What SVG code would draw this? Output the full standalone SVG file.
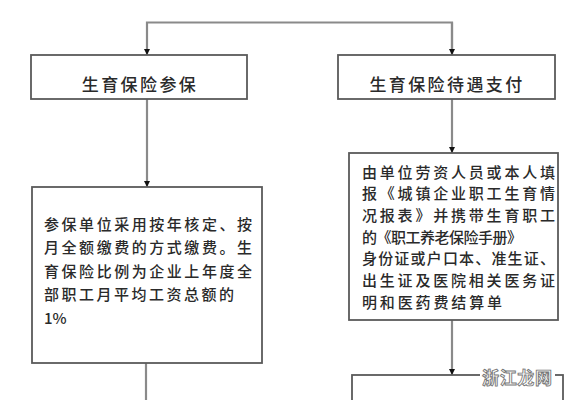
<svg xmlns="http://www.w3.org/2000/svg" width="581" height="400" viewBox="0 0 581 400">
<style>
.box{fill:#fff;stroke:#5a5a5a;stroke-width:1.8}
.conn{fill:none;stroke:#8a8a8a;stroke-width:2.2}
.t{font-family:"Noto Sans CJK SC","Noto Sans",sans-serif;fill:#2a2a2a;font-weight:500}
.title{font-size:17px;letter-spacing:2.4px;text-anchor:middle}
.body{font-size:15px}
.wm{font-family:"Noto Sans CJK SC",sans-serif;font-size:17px;font-weight:bold;fill:#fff;stroke:#777;stroke-width:0.9}
</style>
<defs>
<marker id="arr" viewBox="0 0 8 8" refX="8" refY="4" markerWidth="6" markerHeight="6" markerUnits="userSpaceOnUse" orient="auto">
<path d="M0,0 L8,4 L0,8 Z" fill="#111"/>
</marker>
</defs>
<rect width="581" height="400" fill="#fff"/>
<g id="connectors">
<path class="conn" d="M452,55 V22.5 H147 V55" marker-end="url(#arr)"/>
<path class="conn" d="M452,22.5 V55" marker-end="url(#arr)"/>
<path class="conn" d="M147,99 V187" marker-end="url(#arr)"/>
<path class="conn" d="M146,363 V400"/>
<path class="conn" d="M452,99 V153" marker-end="url(#arr)"/>
<path class="conn" d="M452,320 V375" marker-end="url(#arr)"/>
</g>
<g id="node-join">
<rect class="box" x="31" y="55" width="216" height="44"/>
<text class="t title" x="140" y="91">生育保险参保</text>
</g>
<g id="node-pay">
<rect class="box" x="338" y="55" width="217" height="44"/>
<text class="t title" x="447" y="91">生育保险待遇支付</text>
</g>
<g id="node-join-detail">
<rect class="box" x="32" y="187" width="230" height="176"/>
<text class="t body" x="44" y="229.5" textLength="208" lengthAdjust="spacing">参保单位采用按年核定、按</text>
<text class="t body" x="44" y="253" textLength="208" lengthAdjust="spacing">月全额缴费的方式缴费。生</text>
<text class="t body" x="44" y="276.5" textLength="208" lengthAdjust="spacing">育保险比例为企业上年度全</text>
<text class="t body" x="44" y="300" textLength="190" lengthAdjust="spacing">部职工月平均工资总额的</text>
<text class="t body" x="44" y="323.5">1%</text>
</g>
<g id="node-pay-detail">
<rect class="box" x="349" y="153" width="209" height="167"/>
<text class="t body" x="362" y="177.5" textLength="193" lengthAdjust="spacing">由单位劳资人员或本人填</text>
<text class="t body" x="362" y="199" textLength="193" lengthAdjust="spacing">报《城镇企业职工生育情</text>
<text class="t body" x="362" y="220.5" textLength="193" lengthAdjust="spacing">况报表》并携带生育职工</text>
<text class="t body" x="362" y="242.5" textLength="160" lengthAdjust="spacing">的《职工养老保险手册》</text>
<text class="t body" x="362" y="263.5" textLength="193" lengthAdjust="spacing">身份证或户口本、准生证、</text>
<text class="t body" x="362" y="285.5" textLength="193" lengthAdjust="spacing">出生证及医院相关医务证</text>
<text class="t body" x="362" y="307.5" textLength="140" lengthAdjust="spacing">明和医药费结算单</text>
</g>
<g id="node-next">
<rect class="box" x="352" y="375" width="211" height="40"/>
</g>
<g id="watermark">
<rect x="480" y="369" width="75" height="14" fill="#fff"/>
<text class="wm" x="517" y="384" text-anchor="middle" textLength="70" lengthAdjust="spacing">浙江龙网</text>
</g>
</svg>
